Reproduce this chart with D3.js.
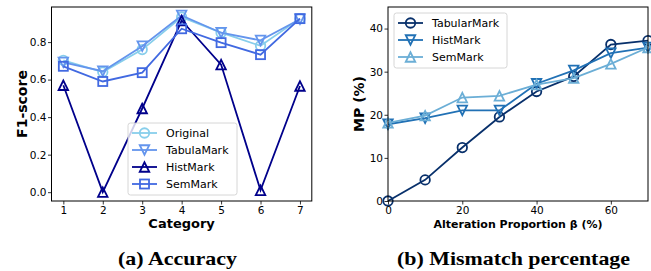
<!DOCTYPE html>
<html><head><meta charset="utf-8">
<script src="https://cdn.jsdelivr.net/npm/d3@7"></script>
<style>
html,body{margin:0;padding:0;background:#fff;}
svg{display:block;}
text{font-family:"DejaVu Sans",sans-serif;}
text.cap{font-family:"Liberation Serif",serif;}
</style></head>
<body>
<svg id="c" width="651" height="271"></svg>
<script>
// ---- data (a) Accuracy ----
const categories = [1,2,3,4,5,6,7];
const originalF1   = [0.703,0.640,0.760,0.933,0.850,0.780,0.925];
const tabulaMarkF1 = [0.692,0.645,0.778,0.942,0.850,0.809,0.922];
const histMarkF1   = [0.570,0.000,0.446,0.915,0.680,0.010,0.566];
const semMarkF1    = [0.671,0.590,0.637,0.871,0.797,0.733,0.925];
const leftYTicks = [0.0,0.2,0.4,0.6,0.8];

// ---- data (b) Mismatch percentage ----
const alteration = [0,10,20,30,40,50,60,70];
const tabularMarkMP = [0.0,4.9,12.4,19.5,25.4,28.9,36.3,37.2];
const histMarkMP    = [17.8,19.2,21.0,21.0,27.2,30.3,34.3,35.6];
const semMarkMP     = [18.1,19.8,24.0,24.4,27.0,28.5,31.8,35.6];
const rightXTicks = [0,20,40,60];
const rightYTicks = [0,10,20,30,40];

const svg = d3.select("#c");

function marker(g, type, x, y, color, ms){
  const h = ms/2;
  if(type==="o"){
    g.append("circle").attr("cx",x).attr("cy",y).attr("r",h)
     .attr("fill","none").attr("stroke",color).attr("stroke-width",1.8);
  } else if(type==="s"){
    const s = h*0.95;
    g.append("rect").attr("x",x-s).attr("y",y-s).attr("width",2*s).attr("height",2*s)
     .attr("fill","none").attr("stroke",color).attr("stroke-width",1.8);
  } else {
    const pts = type==="^" ? [[0,-h],[-h,h],[h,h]] : [[0,h],[-h,-h],[h,-h]];
    g.append("path").attr("d","M"+pts.map(p=>(x+p[0])+","+(y+p[1])).join("L")+"Z")
     .attr("fill","none").attr("stroke",color).attr("stroke-width",1.8).attr("stroke-linejoin","miter");
  }
}

function drawSeries(g, xs, ys, xScale, yScale, color, type){
  const line = d3.line().x((d,i)=>xScale(xs[i])).y(d=>yScale(d));
  g.append("path").attr("d", line(ys)).attr("fill","none")
   .attr("stroke",color).attr("stroke-width",1.8);
  ys.forEach((v,i)=>marker(g,type,xScale(xs[i]),yScale(v),color,9.5));
}

function axes(g, x, y, xt, yt, xfmt, yfmt){
  const xa = d3.axisBottom(x).tickValues(xt).tickSize(3.5).tickPadding(2).tickFormat(xfmt);
  const ya = d3.axisLeft(y).tickValues(yt).tickSize(3.5).tickPadding(1.5).tickFormat(yfmt);
  const gx = g.append("g").attr("transform","translate(0,"+y.range()[0]+")").call(xa);
  const gy = g.append("g").attr("transform","translate("+x.range()[0]+",0)").call(ya);
  [gx,gy].forEach(a=>{
    a.select(".domain").remove();
    a.selectAll("text").attr("font-size","10.5px").attr("fill","#000");
    a.selectAll("line").attr("stroke","#000").attr("stroke-width",0.8);
  });
  g.append("rect").attr("x",x.range()[0]).attr("y",y.range()[1])
   .attr("width",x.range()[1]-x.range()[0]).attr("height",y.range()[0]-y.range()[1])
   .attr("fill","none").attr("stroke","#000").attr("stroke-width",1);
}

function legend(g, x0, y0, w, h, items, firstY){
  g.append("rect").attr("x",x0).attr("y",y0).attr("width",w).attr("height",h).attr("rx",2.5)
   .attr("fill","#fff").attr("fill-opacity",0.8).attr("stroke","#cccccc").attr("stroke-width",0.8);
  items.forEach((it,i)=>{
    const yy = firstY + i*17;
    g.append("line").attr("x1",x0+4).attr("x2",x0+29).attr("y1",yy).attr("y2",yy)
     .attr("stroke",it.color).attr("stroke-width",1.8);
    marker(g,it.type,x0+16.5,yy,it.color,9.5);
    g.append("text").attr("x",x0+38).attr("y",yy+4).attr("font-size","11px").attr("fill","#000").text(it.name);
  });
}

// ---------- Left chart ----------
const xL = d3.scaleLinear().domain([0.7,7.3]).range([51.5,311.8]);
const yL = d3.scaleLinear().domain([-0.047,0.987]).range([201,7]);
const gL = svg.append("g");
const cOrig="#87ceeb", cTab="#6495ed", cHist="#00008b", cSem="#4169e1";
drawSeries(gL,categories,originalF1,xL,yL,cOrig,"o");
drawSeries(gL,categories,tabulaMarkF1,xL,yL,cTab,"v");
drawSeries(gL,categories,histMarkF1,xL,yL,cHist,"^");
drawSeries(gL,categories,semMarkF1,xL,yL,cSem,"s");
axes(gL,xL,yL,categories,leftYTicks,d3.format("d"),d3.format(".1f"));
legend(gL,128,123,109,72,[
  {name:"Original",color:cOrig,type:"o"},
  {name:"TabulaMark",color:cTab,type:"v"},
  {name:"HistMark",color:cHist,type:"^"},
  {name:"SemMark",color:cSem,type:"s"}],133);
gL.append("text").attr("x",181.6).attr("y",228).attr("text-anchor","middle")
  .attr("font-size","13px").attr("font-weight","bold").text("Category");
gL.append("text").attr("transform","translate(26.5,104) rotate(-90)").attr("text-anchor","middle")
  .attr("font-size","14px").attr("font-weight","bold").text("F1-score");

// ---------- Right chart ----------
const xR = d3.scaleLinear().domain([0,70]).range([388,648]);
const yR = d3.scaleLinear().domain([0,45]).range([201,7]);
const gR = svg.append("g");
const c1="#08306b", c2="#2171b5", c3="#6baed6";
drawSeries(gR,alteration,tabularMarkMP,xR,yR,c1,"o");
drawSeries(gR,alteration,histMarkMP,xR,yR,c2,"v");
drawSeries(gR,alteration,semMarkMP,xR,yR,c3,"^");
axes(gR,xR,yR,rightXTicks,rightYTicks,d3.format("d"),d3.format("d"));
legend(gR,394,13,113,55,[
  {name:"TabularMark",color:c1,type:"o"},
  {name:"HistMark",color:c2,type:"v"},
  {name:"SemMark",color:c3,type:"^"}],23);
gR.append("text").attr("x",518).attr("y",227.5).attr("text-anchor","middle")
  .attr("font-size","11px").attr("font-weight","bold").text("Alteration Proportion β (%)");
gR.append("text").attr("transform","translate(364,104) rotate(-90)").attr("text-anchor","middle")
  .attr("font-size","14px").attr("font-weight","bold").text("MP (%)");

// ---------- Captions ----------
svg.append("text").attr("class","cap").attr("x",118).attr("y",265)
  .attr("font-weight","bold").attr("font-size","19px").attr("textLength",119)
  .attr("lengthAdjust","spacingAndGlyphs").text("(a) Accuracy");
svg.append("text").attr("class","cap").attr("x",397).attr("y",265)
  .attr("font-weight","bold").attr("font-size","19px").attr("textLength",233)
  .attr("lengthAdjust","spacingAndGlyphs").text("(b) Mismatch percentage");
</script>
</body></html>
